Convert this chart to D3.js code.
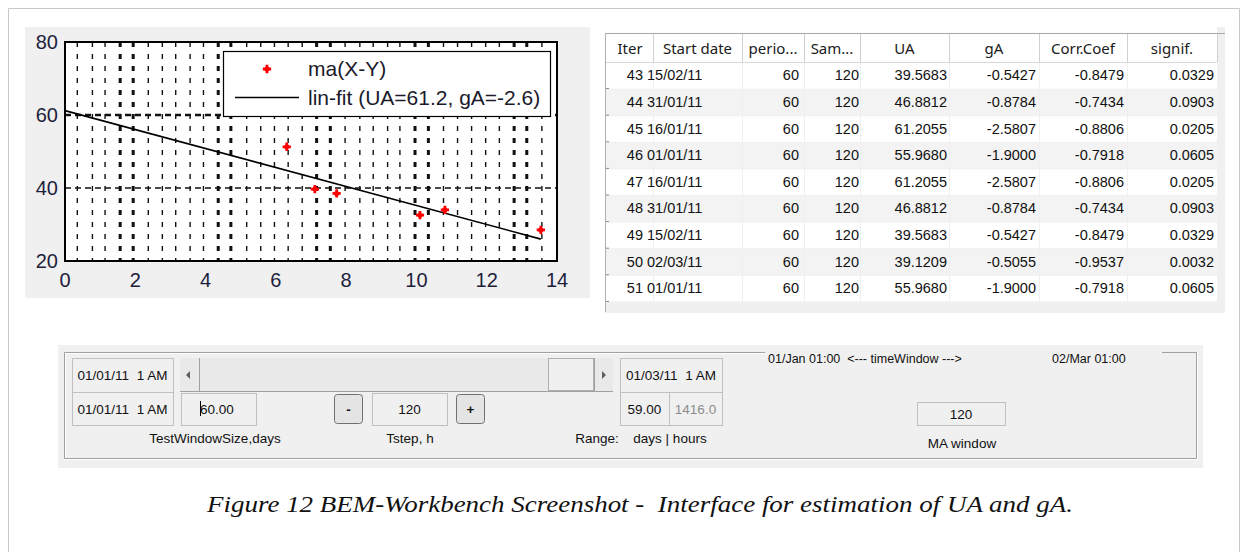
<!DOCTYPE html>
<html lang="en">
<head>
<meta charset="utf-8">
<title>BEM-Workbench</title>
<script src="https://d3js.org/d3.v7.min.js"></script>
<style>
  body { margin: 0; background: #fff; }
  svg text { font-family: "Liberation Sans", Arial, sans-serif; white-space: pre; }
  svg text.hd { font-family: "Noto Sans", "Open Sans", sans-serif; }
  svg text.cap { font-family: "Liberation Serif", "Times New Roman", serif; }
</style>
</head>
<body>
<svg id="fig" width="1248" height="552"></svg>
<script>
// ---- plot data
const maX = [6.31, 7.11, 7.73, 10.10, 10.81, 13.54];
const maY = [51.3, 39.7, 38.5, 32.6, 34.0, 28.5];
const fitUA = 61.2, fitGA = -2.6;
const xTicks = [0, 2, 4, 6, 8, 10, 12, 14];
const yTicks = [20, 40, 60, 80];
const yGrid = [40, 60];
const gridX = [0.35, 0.78, 1.14, 1.57, 1.94, 2.37, 2.77, 3.15, 3.56, 3.94, 4.36, 4.72,
  5.17, 5.57, 5.96, 6.35, 6.75, 7.16, 7.55, 7.97, 8.39, 8.77, 9.18, 9.53, 9.96, 10.34,
  10.77, 11.17, 11.57, 11.97, 12.36, 12.78, 13.14, 13.57];
const boldGridX = [1.57, 1.94, 4.36, 4.72, 7.16, 7.55, 9.96, 10.34, 12.78, 13.14];
const legendLabels = ["ma(X-Y)", "lin-fit (UA=61.2, gA=-2.6)"];

// ---- table data
const headers = ["Iter", "Start date", "perio...", "Sam...", "UA", "gA", "Corr.Coef", "signif."];
const iters = [43, 44, 45, 46, 47, 48, 49, 50, 51];
const startDates = ["15/02/11", "31/01/11", "16/01/11", "01/01/11", "16/01/11", "31/01/11", "15/02/11", "02/03/11", "01/01/11"];
const periods = [60, 60, 60, 60, 60, 60, 60, 60, 60];
const samples = [120, 120, 120, 120, 120, 120, 120, 120, 120];
const uaVals = ["39.5683", "46.8812", "61.2055", "55.9680", "61.2055", "46.8812", "39.5683", "39.1209", "55.9680"];
const gaVals = ["-0.5427", "-0.8784", "-2.5807", "-1.9000", "-2.5807", "-0.8784", "-0.5427", "-0.5055", "-1.9000"];
const corrVals = ["-0.8479", "-0.7434", "-0.8806", "-0.7918", "-0.8806", "-0.7434", "-0.8479", "-0.9537", "-0.7918"];
const signifVals = ["0.0329", "0.0903", "0.0205", "0.0605", "0.0205", "0.0903", "0.0329", "0.0032", "0.0605"];

const caption = "Figure 12 BEM-Workbench Screenshot -  Interface for estimation of UA and gA.";

const svg = d3.select("#fig");

// outer frame of the page
svg.append("path").attr("d", "M8.5,552 V8.5 H1239.5 V552")
  .attr("fill", "none").attr("stroke", "#c8c8c8");

// ================= plot =================
svg.append("rect").attr("x", 25).attr("y", 27).attr("width", 565).attr("height", 271).attr("fill", "#f0f0f0");

const x = d3.scaleLinear().domain([0, 14]).range([65, 557]);
const y = d3.scaleLinear().domain([20, 80]).range([261, 42]);
const plot = svg.append("g");

plot.append("rect").attr("x", x(0)).attr("y", y(80))
  .attr("width", x(14) - x(0)).attr("height", y(20) - y(80)).attr("fill", "#fff");

plot.selectAll("line.vg").data(gridX).join("line")
  .attr("class", "vg")
  .attr("x1", d => x(d)).attr("x2", d => x(d))
  .attr("y1", y(80)).attr("y2", y(20))
  .attr("stroke", "#111")
  .attr("stroke-width", d => boldGridX.includes(d) ? 3 : 1.4)
  .attr("stroke-dasharray", "5,7");

plot.selectAll("line.hg").data(yGrid).join("line")
  .attr("class", "hg")
  .attr("x1", x(0)).attr("x2", x(14))
  .attr("y1", d => y(d)).attr("y2", d => y(d))
  .attr("stroke", "#111")
  .attr("stroke-width", d => d === 60 ? 2.4 : 1.3)
  .attr("stroke-dasharray", "6,4");

// fit line
const xEnd = d3.max(maX);
plot.append("line")
  .attr("x1", x(0)).attr("y1", y(fitUA))
  .attr("x2", x(xEnd)).attr("y2", y(fitUA + fitGA * xEnd))
  .attr("stroke", "#000").attr("stroke-width", 1.6);

// red markers
function star(g, cx, cy) {
  g.append("path").attr("d", d3.symbol(d3.symbolCross, 38)())
    .attr("transform", `translate(${cx},${cy})`).attr("fill", "#ff0000");
  g.append("circle").attr("cx", cx).attr("cy", cy).attr("r", 2.6).attr("fill", "#ff0000");
}
maX.forEach((v, i) => star(plot, x(v), y(maY[i])));

// plot border
plot.append("rect").attr("x", x(0)).attr("y", y(80))
  .attr("width", x(14) - x(0)).attr("height", y(20) - y(80))
  .attr("fill", "none").attr("stroke", "#000").attr("stroke-width", 2);

// tick labels
plot.selectAll("text.yt").data(yTicks).join("text")
  .attr("class", "yt").attr("x", 58).attr("y", d => y(d) + 7)
  .attr("text-anchor", "end").attr("font-size", 20).attr("fill", "#1e1e3c")
  .text(d => d);
plot.selectAll("text.xt").data(xTicks).join("text")
  .attr("class", "xt").attr("x", d => x(d)).attr("y", 287)
  .attr("text-anchor", "middle").attr("font-size", 20).attr("fill", "#1e1e3c")
  .text(d => d);

// legend
const leg = plot.append("g");
leg.append("rect").attr("x", 223.5).attr("y", 51.5).attr("width", 327).attr("height", 65)
  .attr("fill", "#fff").attr("stroke", "#000").attr("stroke-width", 1.2);
star(leg, 267, 69);
leg.append("line").attr("x1", 235).attr("x2", 299).attr("y1", 97.5).attr("y2", 97.5)
  .attr("stroke", "#000").attr("stroke-width", 1.4);
leg.selectAll("text").data(legendLabels).join("text")
  .attr("x", 308).attr("y", (d, i) => 76 + i * 28.5)
  .attr("font-size", 21).attr("fill", "#1a1a2a")
  .text(d => d);

// ================= table =================
const colEdges = [605, 653, 742, 804, 860, 949, 1039, 1127, 1217];
const rowY = d3.scaleLinear().domain([0, 1]).range([62, 88.6]);
const tab = svg.append("g");
tab.append("rect").attr("x", 605).attr("y", 27).attr("width", 620).attr("height", 286).attr("fill", "#f0f0f0");
tab.append("rect").attr("x", 605).attr("y", 27).attr("width", 612).attr("height", 35).attr("fill", "#fff");
tab.append("line").attr("x1", 605).attr("x2", 1225).attr("y1", 33.5).attr("y2", 33.5).attr("stroke", "#a8a8a8");
tab.append("line").attr("x1", 605).attr("x2", 1217).attr("y1", 62.5).attr("y2", 62.5).attr("stroke", "#d8d8d8");

// header separators
tab.selectAll("line.hs").data(colEdges.slice(1)).join("line")
  .attr("class", "hs")
  .attr("x1", d => d + 0.5).attr("x2", d => d + 0.5).attr("y1", 34).attr("y2", 62)
  .attr("stroke", "#d0d0d0");
tab.selectAll("text.hd").data(headers).join("text")
  .attr("class", "hd")
  .attr("x", (d, i) => (colEdges[i] + colEdges[i + 1]) / 2 + (i === 0 ? 1 : 0))
  .attr("y", 54).attr("text-anchor", "middle")
  .attr("font-size", 15).attr("fill", "#1a1a1a")
  .text(d => d);

// body rows
const cols = [iters, startDates, periods, samples, uaVals, gaVals, corrVals, signifVals];
const rightX = [643, null, 799, 859, 947, 1036, 1124, 1214];
iters.forEach((it, r) => {
  const y0 = rowY(r), y1 = rowY(r + 1);
  const bg = r % 2 === 0 ? "#ffffff" : "#f3f3f3";
  for (let c = 0; c < 8; c++) {
    tab.append("rect").attr("x", colEdges[c] + 1).attr("y", y0 + 1)
      .attr("width", colEdges[c + 1] - colEdges[c] - 1).attr("height", y1 - y0 - 1)
      .attr("fill", bg);
  }
  const ty = (y0 + y1) / 2 + 5;
  cols.forEach((col, c) => {
    const t = tab.append("text").attr("y", ty).attr("font-size", 14.5).attr("fill", "#111").text(col[r]);
    if (c === 1) t.attr("x", 647);
    else t.attr("x", rightX[c]).attr("text-anchor", "end");
  });
  // small ticks on the left border
  tab.append("line").attr("x1", 605).attr("x2", 609).attr("y1", y1).attr("y2", y1).attr("stroke", "#888");
});
tab.append("line").attr("x1", 605.5).attr("x2", 605.5).attr("y1", 33).attr("y2", 312).attr("stroke", "#b0b0b0");

// ================= controls panel =================
const ctl = svg.append("g").attr("font-size", 13.5).attr("fill", "#111");
ctl.append("rect").attr("x", 58).attr("y", 345).attr("width", 1145).attr("height", 123).attr("fill", "#f0f0f0");
ctl.append("path").attr("d", "M765,352.5 H64.5 V458.5 H1196.5 V352.5 H1162")
  .attr("fill", "none").attr("stroke", "#a0a0a0");
ctl.append("path").attr("d", "M765,353.5 H65.5 V457.5 M1197.5,352 V459.5 H64")
  .attr("fill", "none").attr("stroke", "#ffffff");

function box(x0, y0, w, h, label, opts = {}) {
  ctl.append("rect").attr("x", x0 + 0.5).attr("y", y0 + 0.5).attr("width", w).attr("height", h)
    .attr("fill", "#f0f0f0").attr("stroke", "#c0c0c0");
  const t = ctl.append("text").attr("y", y0 + h / 2 + 5).text(label)
    .attr("fill", opts.color || "#111");
  if (opts.left != null) t.attr("x", x0 + opts.left);
  else t.attr("x", x0 + w / 2).attr("text-anchor", "middle");
}
function button(x0, y0, w, h, label) {
  ctl.append("rect").attr("x", x0 + 0.5).attr("y", y0 + 0.5).attr("width", w).attr("height", h)
    .attr("rx", 3).attr("fill", "#e4e4e4").attr("stroke", "#707070");
  ctl.append("text").attr("x", x0 + w / 2 + 0.5).attr("y", y0 + h / 2 + 5)
    .attr("text-anchor", "middle").attr("font-weight", "bold").text(label);
}

box(72, 358, 101, 34, "01/01/11  1 AM");
box(72, 392, 101, 33, "01/01/11  1 AM");
box(181, 393, 75, 32, "60.00", { left: 19 });
ctl.append("line").attr("x1", 200.5).attr("x2", 200.5).attr("y1", 401).attr("y2", 416).attr("stroke", "#000");
button(334, 394, 28, 29, "-");
box(372, 393, 75, 32, "120");
button(456, 394, 28, 29, "+");
box(620, 358, 102, 34, "01/03/11  1 AM");
box(620, 392, 49, 33, "59.00");
box(669, 392, 53, 33, "1416.0", { color: "#8c8c8c" });
box(917, 402, 88, 23, "120");

// scrollbar
ctl.append("rect").attr("x", 180).attr("y", 358).attr("width", 433).attr("height", 33).attr("fill", "#e9e9e9");
ctl.append("path").attr("d", "M180,391.5 H613 M199.5,358 V391 M594.5,358 V391")
  .attr("stroke", "#a0a0a0").attr("fill", "none");
ctl.append("rect").attr("x", 548.5).attr("y", 358.5).attr("width", 45).attr("height", 32)
  .attr("fill", "#f0f0f0").attr("stroke", "#b0b0b0");
ctl.append("path").attr("d", "M186,375 L190,371 V379 Z").attr("fill", "#606060");
ctl.append("path").attr("d", "M606,375 L602,371 V379 Z").attr("fill", "#606060");

// labels
const lbls = [
  { t: "TestWindowSize,days", x: 215, y: 443 },
  { t: "Tstep, h", x: 410, y: 443 },
  { t: "Range:", x: 597, y: 443 },
  { t: "days | hours", x: 670, y: 443 },
  { t: "MA window", x: 962, y: 448 }
];
ctl.selectAll("text.lb").data(lbls).join("text").attr("class", "lb")
  .attr("x", d => d.x).attr("y", d => d.y).attr("text-anchor", "middle").text(d => d.t);
ctl.append("text").attr("x", 768).attr("y", 363).attr("font-size", 12.5).text("01/Jan 01:00  <--- timeWindow --->");
ctl.append("text").attr("x", 1052).attr("y", 363).attr("font-size", 12.5).text("02/Mar 01:00");

// ================= caption =================
svg.append("text").attr("class", "cap").attr("x", 640).attr("y", 512).attr("text-anchor", "middle")
  .attr("font-style", "italic").attr("font-size", 24)
  .attr("textLength", 866).attr("lengthAdjust", "spacingAndGlyphs")
  .attr("fill", "#111").text(caption);
</script>
</body>
</html>
